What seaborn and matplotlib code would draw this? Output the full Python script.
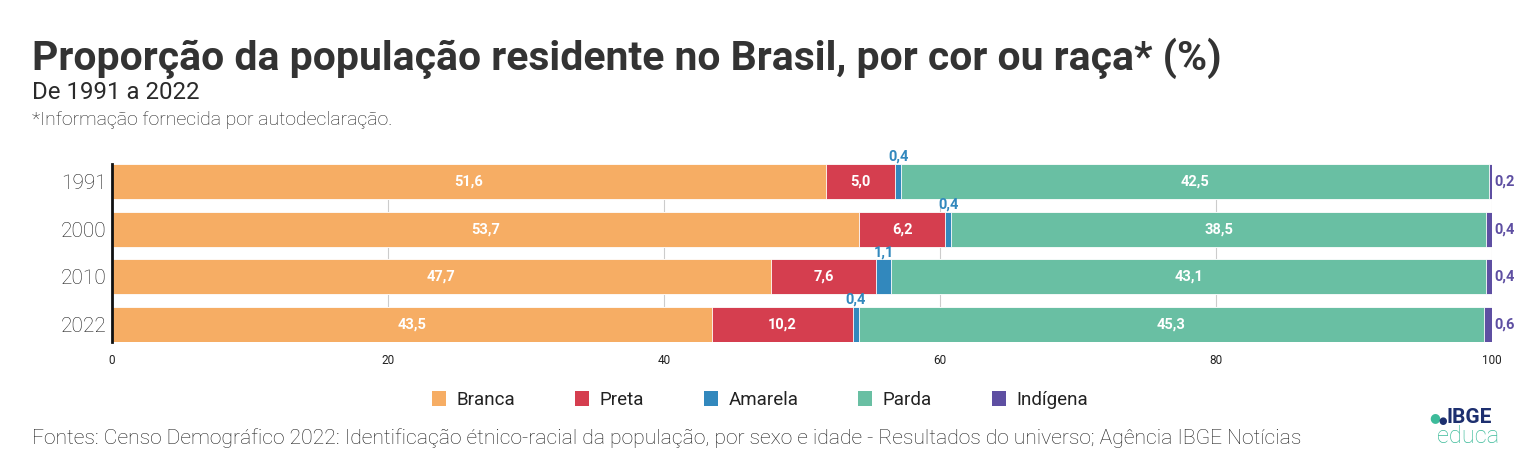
import matplotlib
matplotlib.use("Agg")
import matplotlib.pyplot as plt
from matplotlib.patches import Patch
import seaborn as sns
import pandas as pd

anos = ["1991", "2000", "2010", "2022"]
categorias = ["Branca", "Preta", "Amarela", "Parda", "Indígena"]
branca = [51.6, 53.7, 47.7, 43.5]
preta = [5.0, 6.2, 7.6, 10.2]
amarela = [0.4, 0.4, 1.1, 0.4]
parda = [42.5, 38.5, 43.1, 45.3]
indigena = [0.2, 0.4, 0.4, 0.6]
cores = ["#f6ad64", "#d53e4f", "#3288bd", "#69bfa3", "#5e4fa2"]
xticks = [0, 20, 40, 60, 80, 100]

sns.set_theme(style="white")
plt.rcParams["font.family"] = ["Roboto", "DejaVu Sans"]

vals = pd.DataFrame({"Branca": branca, "Preta": preta, "Amarela": amarela,
                     "Parda": parda, "Indígena": indigena}, index=anos)
# bars are shown normalised to 100%
shares = vals.div(vals.sum(axis=1), axis=0) * 100
cum = shares.cumsum(axis=1)

fig = plt.figure(figsize=(15.2, 4.63), dpi=100)
ax = fig.add_axes([112 / 1520, 1 - 342 / 463, 1380 / 1520, 178 / 463])

# draw cumulative totals back to front -> stacked look
for cat, cor in reversed(list(zip(categorias, cores))):
    d = pd.DataFrame({"ano": anos, "v": cum[cat].values})
    sns.barplot(data=d, x="v", y="ano", orient="h", color=cor, width=0.73,
                edgecolor="white", linewidth=0.6, saturation=1, ax=ax)

ax.set_xlim(0, 100)
ax.set_ylim(3.365, -0.365)
ax.set_xticks(xticks)
ax.set_xticklabels([str(t) for t in xticks], fontsize=8.5, color="#222222")
ax.tick_params(axis="y", labelsize=15, labelcolor="#1e1e1e", length=0, pad=4)
ax.tick_params(axis="x", length=0, pad=9)
for lbl in ax.get_yticklabels():
    lbl.set_fontweight("light")
ax.set_xlabel("")
ax.set_ylabel("")
ax.xaxis.grid(True, color="#cccccc", linewidth=0.8)
ax.set_axisbelow(True)
for s in ["top", "right", "bottom"]:
    ax.spines[s].set_visible(False)
ax.spines["left"].set_color("#111111")
ax.spines["left"].set_linewidth(2)
ax.spines["left"].set_zorder(5)

# value labels
for i, ano in enumerate(anos):
    for cat in ["Branca", "Preta", "Parda"]:
        centro = cum.loc[ano, cat] - shares.loc[ano, cat] / 2
        ax.text(centro, i, f"{vals.loc[ano, cat]:.1f}".replace(".", ","),
                ha="center", va="center", color="white", fontsize=10.5,
                fontweight="bold")
    centro = cum.loc[ano, "Amarela"] - shares.loc[ano, "Amarela"] / 2
    ax.text(centro, i - 0.37, f"{vals.loc[ano, 'Amarela']:.1f}".replace(".", ","),
            ha="center", va="bottom", color="#3288bd", fontsize=10.5,
            fontweight="bold")
    ax.text(100.2, i, f"{vals.loc[ano, 'Indígena']:.1f}".replace(".", ","),
            ha="left", va="center", color="#5e4fa2", fontsize=10.5,
            fontweight="bold", clip_on=False)

handles = [Patch(facecolor=c, edgecolor="none") for c in cores]
fig.legend(handles, categorias, loc="center", ncol=5, frameon=False,
           bbox_to_anchor=(760 / 1520, 1 - 400 / 463), fontsize=13.5,
           handlelength=0.75, handleheight=0.9, handletextpad=0.55,
           columnspacing=3.2, labelcolor="#222222")

fig.text(32 / 1520, 1 - 70 / 463,
         "Proporção da população residente no Brasil, por cor ou raça* (%)",
         fontsize=29.4, fontweight="bold", color="#333333", va="baseline")
fig.text(32 / 1520, 1 - 99 / 463, "De 1991 a 2022", fontsize=17.3,
         color="#2a2a2a", va="baseline")
fig.text(32 / 1520, 1 - 125 / 463, "*Informação fornecida por autodeclaração.",
         fontsize=14, fontweight="light", color="#1e1e1e", va="baseline")
fig.text(32 / 1520, 1 - 444 / 463,
         "Fontes: Censo Demográfico 2022: Identificação étnico-racial da população, "
         "por sexo e idade - Resultados do universo; Agência IBGE Notícias",
         fontsize=15.2, fontweight="light", color="#1e1e1e", va="baseline")

# logo
fig.text(1447 / 1520, 1 - 423 / 463, "IBGE", fontsize=15, fontweight="bold",
         color="#1d2f6f", va="baseline")
fig.text(1437 / 1520, 1 - 443 / 463, "educa", fontsize=17, color="#3dbb9a",
         va="baseline", fontweight="light")
fig.text(1429 / 1520, 1 - 421 / 463, "●", fontsize=9, color="#3dbb9a", va="baseline")
fig.text(1438 / 1520, 1 - 424 / 463, "●", fontsize=7, color="#1d2f6f", va="baseline")

fig.savefig("out.png", dpi=100)
